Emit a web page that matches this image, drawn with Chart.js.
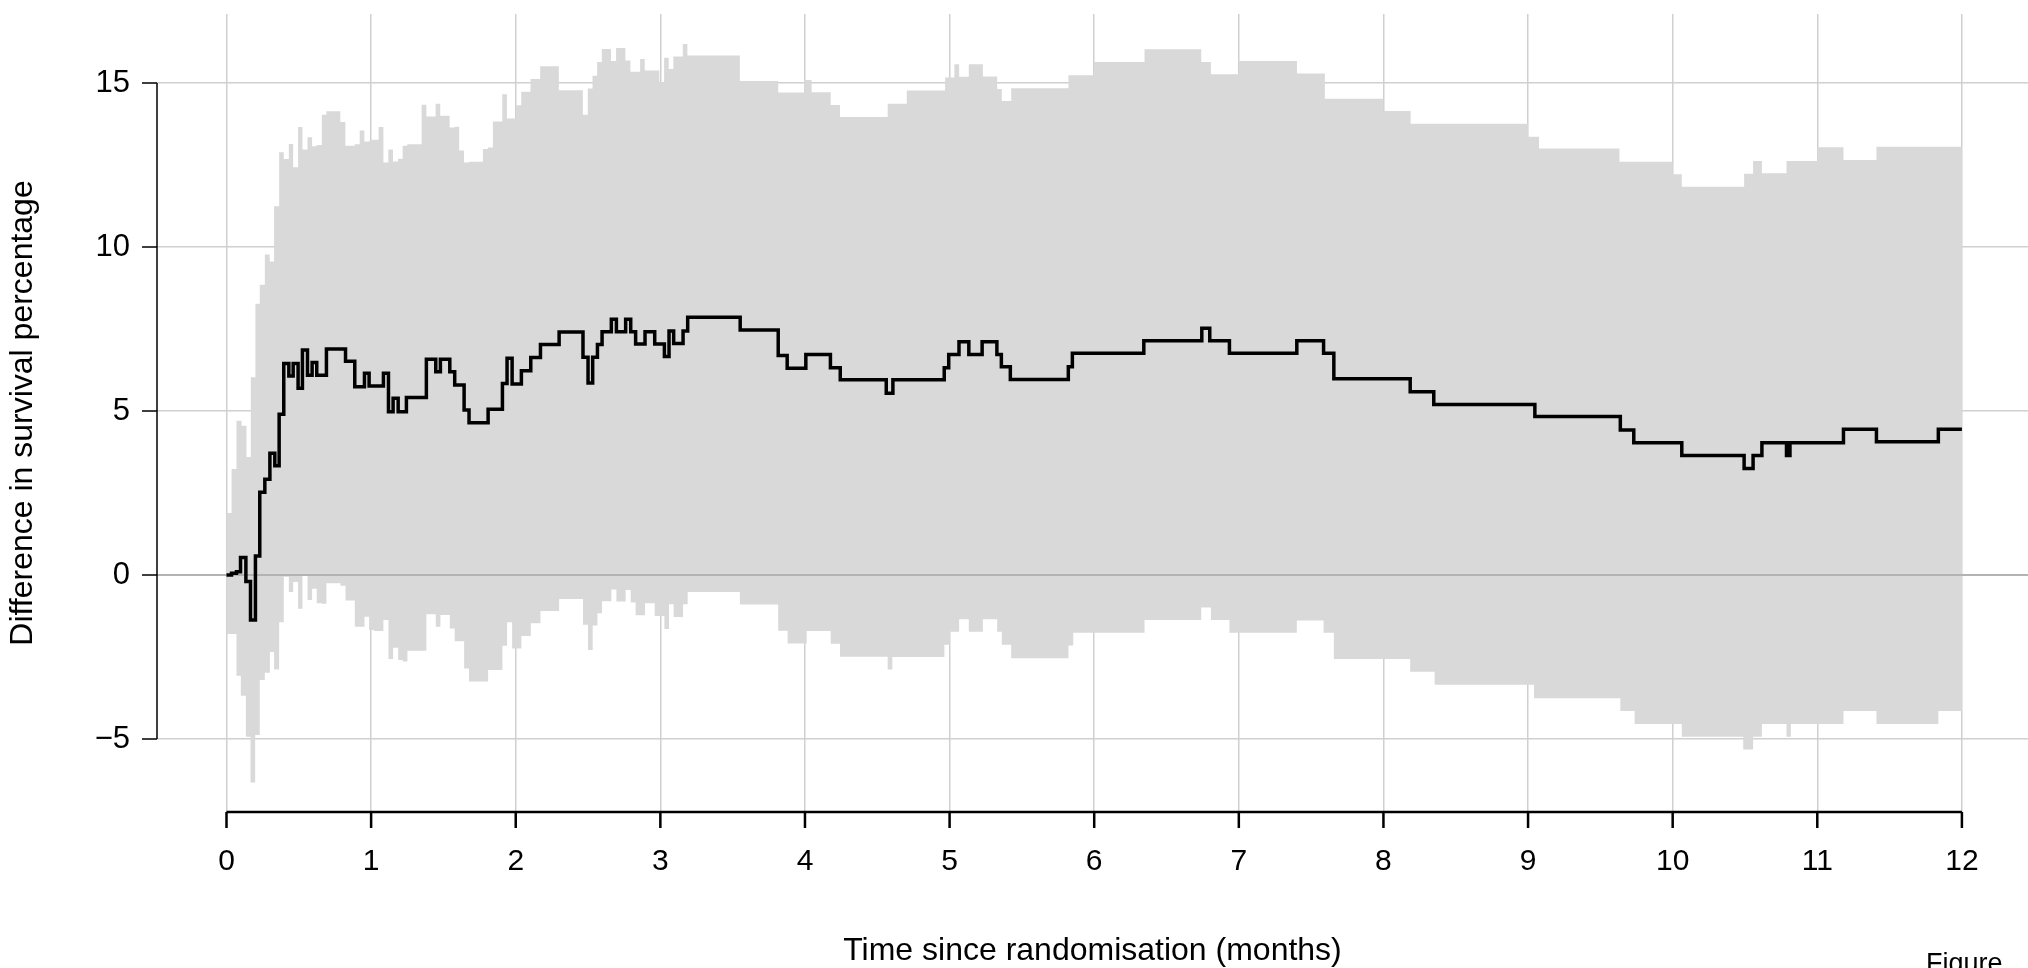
<!DOCTYPE html>
<html>
<head>
<meta charset="utf-8">
<script src="https://cdn.jsdelivr.net/npm/chart.js@4.4.1/dist/chart.umd.min.js"></script>
<style>
html, body { margin: 0; padding: 0; background: #fff; }
canvas { display: block; }
</style>
</head>
<body>
<canvas id="diferencia" width="2028" height="968"></canvas>
<script>
// DATOS (meses desde la aleatorizacion, diferencia en %)
var estT = [0, 0.035, 0.069, 0.097, 0.134, 0.166, 0.200, 0.230, 0.265, 0.300, 0.334, 0.364, 0.396, 0.431, 0.461, 0.495,
    0.525, 0.560, 0.592, 0.624, 0.691, 0.823, 0.887, 0.954, 0.986, 1.085, 1.120, 1.152, 1.187, 1.244, 1.382, 1.447,
    1.479, 1.544, 1.578, 1.643, 1.677, 1.809, 1.908, 1.940, 1.975, 2.039, 2.104, 2.171, 2.300, 2.465, 2.500, 2.532,
    2.565, 2.597, 2.661, 2.696, 2.760, 2.795, 2.829, 2.894, 2.961, 3.028, 3.060, 3.092, 3.157, 3.189, 3.552, 3.815,
    3.877, 4.006, 4.176, 4.244, 4.562, 4.608, 4.963, 4.994, 5.065, 5.133, 5.225, 5.327, 5.358, 5.420, 5.821, 5.849,
    6.343, 6.744, 6.799, 6.935, 7.401, 7.586, 7.657, 8.185, 8.348, 9.047, 9.638, 9.731, 10.063, 10.494, 10.556, 10.617,
    10.787, 10.811, 11.181, 11.409, 11.837, 12.0];
var estV = [0, 0.05, 0.10, 0.53, -0.20, -1.37, 0.58, 2.52, 2.92, 3.71, 3.33, 4.90, 6.45, 6.07, 6.45, 5.69,
    6.86, 6.09, 6.48, 6.09, 6.89, 6.52, 5.74, 6.15, 5.76, 6.15, 4.98, 5.39, 4.98, 5.41, 6.58, 6.20,
    6.58, 6.20, 5.79, 5.03, 4.64, 5.05, 5.84, 6.61, 5.82, 6.23, 6.63, 7.03, 7.41, 6.64, 5.85, 6.64,
    7.03, 7.42, 7.80, 7.42, 7.80, 7.42, 7.04, 7.42, 7.04, 6.66, 7.44, 7.06, 7.44, 7.86, 7.47, 6.69,
    6.30, 6.72, 6.32, 5.95, 5.54, 5.95, 6.32, 6.72, 7.11, 6.72, 7.11, 6.72, 6.35, 5.96, 6.35, 6.76,
    7.14, 7.52, 7.14, 6.76, 7.14, 6.76, 5.98, 5.59, 5.20, 4.83, 4.42, 4.03, 3.64, 3.25, 3.64, 4.03,
    3.64, 4.03, 4.44, 4.06, 4.44, 4.44];

// limite superior del intervalo
var upT = [0, 0.035, 0.069, 0.104, 0.138, 0.168, 0.200, 0.230, 0.265, 0.299, 0.329, 0.364, 0.396, 0.431, 0.461, 0.495,
    0.525, 0.560, 0.592, 0.624, 0.659, 0.691, 0.787, 0.822, 0.886, 0.921, 0.953, 0.990, 1.052, 1.085, 1.119, 1.151,
    1.186, 1.218, 1.250, 1.349, 1.382, 1.446, 1.478, 1.543, 1.577, 1.609, 1.642, 1.676, 1.773, 1.808, 1.842, 1.907,
    1.939, 2.003, 2.038, 2.102, 2.169, 2.298, 2.464, 2.498, 2.531, 2.563, 2.595, 2.659, 2.694, 2.758, 2.793, 2.860,
    2.892, 2.993, 3.026, 3.058, 3.090, 3.155, 3.187, 3.550, 3.815, 3.995, 4.046, 4.178, 4.242, 4.572, 4.704, 4.969,
    5.033, 5.066, 5.133, 5.230, 5.329, 5.361, 5.426, 5.822, 6.000, 6.348, 6.740, 6.807, 7.000, 7.402, 7.595, 8.000,
    8.188, 9.000, 9.076, 9.632, 10.000, 10.063, 10.494, 10.556, 10.617, 10.787, 11.000, 11.181, 11.409, 12.0];
var upV = [1.89, 3.23, 4.70, 4.55, 3.60, 6.03, 8.27, 8.85, 9.77, 9.56, 11.24, 12.89, 12.68, 13.14, 12.43, 13.66,
    12.97, 13.35, 13.07, 13.11, 14.03, 14.14, 13.81, 13.09, 13.13, 13.55, 13.22, 13.27, 13.66, 12.58, 12.97, 12.61,
    12.69, 13.09, 13.13, 14.34, 13.98, 14.37, 14.00, 13.64, 13.67, 12.94, 12.58, 12.60, 12.99, 13.03, 13.83, 14.66,
    13.92, 14.32, 14.73, 15.12, 15.51, 14.78, 14.03, 14.83, 15.22, 15.64, 16.04, 15.67, 16.07, 15.69, 15.34, 15.73,
    15.38, 15.02, 15.77, 15.43, 15.81, 16.19, 15.84, 15.06, 14.71, 15.09, 14.72, 14.33, 13.96, 14.37, 14.77, 15.17,
    15.57, 15.19, 15.57, 15.20, 14.82, 14.45, 14.84, 15.24, 15.64, 16.03, 15.64, 15.27, 15.67, 15.29, 14.52, 14.15,
    13.76, 13.36, 13.00, 12.60, 12.22, 11.84, 12.23, 12.62, 12.25, 12.62, 13.04, 12.65, 13.06, 13.06];

// limite inferior del intervalo
var loT = [0, 0.069, 0.099, 0.134, 0.166, 0.198, 0.230, 0.265, 0.300, 0.329, 0.364, 0.396, 0.431, 0.461, 0.495, 0.525,
    0.560, 0.592, 0.624, 0.659, 0.691, 0.788, 0.823, 0.887, 0.954, 0.986, 1.021, 1.085, 1.120, 1.152, 1.187, 1.219,
    1.251, 1.382, 1.447, 1.479, 1.544, 1.578, 1.643, 1.677, 1.809, 1.908, 1.940, 1.975, 2.039, 2.104, 2.171, 2.300,
    2.465, 2.500, 2.532, 2.565, 2.597, 2.661, 2.696, 2.760, 2.795, 2.829, 2.894, 2.961, 3.028, 3.060, 3.092, 3.157,
    3.189, 3.550, 3.815, 3.880, 4.012, 4.178, 4.242, 4.572, 4.604, 4.964, 5.003, 5.066, 5.133, 5.230, 5.329, 5.361,
    5.426, 5.822, 5.855, 6.348, 6.740, 6.807, 6.935, 7.401, 7.586, 7.657, 8.185, 8.354, 9.041, 9.638, 9.737, 10.063,
    10.488, 10.556, 10.617, 10.787, 10.817, 11.181, 11.409, 11.837, 12.0];
var loV = [-1.80, -3.07, -3.68, -4.93, -6.33, -4.88, -3.20, -2.98, -2.35, -2.88, -1.44, -0.05, -0.52, -0.21, -1.03, 0.03,
    -0.76, -0.42, -0.86, -0.88, -0.25, -0.33, -0.78, -1.58, -1.27, -1.68, -1.71, -1.37, -2.56, -2.22, -2.59, -2.64,
    -2.31, -1.20, -1.58, -1.22, -1.63, -2.02, -2.85, -3.25, -2.90, -2.16, -1.44, -2.24, -1.86, -1.47, -1.10, -0.73,
    -1.52, -2.29, -1.54, -1.17, -0.80, -0.44, -0.81, -0.46, -0.84, -1.23, -0.86, -1.25, -1.65, -0.89, -1.28, -0.89,
    -0.52, -0.90, -1.70, -2.09, -1.71, -2.10, -2.49, -2.88, -2.50, -2.13, -1.73, -1.35, -1.73, -1.35, -1.73, -2.13,
    -2.54, -2.15, -1.76, -1.37, -0.99, -1.37, -1.76, -1.39, -1.76, -2.56, -2.95, -3.35, -3.76, -4.15, -4.54, -4.93,
    -5.32, -4.93, -4.54, -4.93, -4.54, -4.15, -4.54, -4.15, -4.15];

var xTicks = [0, 1, 2, 3, 4, 5, 6, 7, 8, 9, 10, 11, 12];
var yTicks = [-5, 0, 5, 10, 15];

Chart.defaults.font.family = "'Liberation Sans', Arial, Helvetica, sans-serif";
Chart.defaults.color = '#000';

function puntos(t, v) {
    return t.map(function (x, i) { return {x: x, y: v[i]}; });
}

// ejes al estilo R: solo sobre el rango de las marcas
var ejes = {
    id: 'ejes',
    beforeDatasetDraw: function (chart, args) {
        if (args.index !== 0) return;
        var ctx = chart.ctx, a = chart.chartArea, y0 = chart.scales.y.getPixelForValue(0);
        ctx.save();
        ctx.strokeStyle = '#b3b3b3';
        ctx.lineWidth = 2;
        ctx.beginPath();
        ctx.moveTo(a.left, y0);
        ctx.lineTo(a.right, y0);
        ctx.stroke();
        ctx.restore();
    },
    afterDraw: function (chart) {
        var ctx = chart.ctx, a = chart.chartArea, sx = chart.scales.x, sy = chart.scales.y;
        ctx.save();
        ctx.strokeStyle = '#000';
        ctx.lineWidth = 1.5;
        ctx.beginPath();
        ctx.moveTo(a.left, sy.getPixelForValue(yTicks[0]));
        ctx.lineTo(a.left, sy.getPixelForValue(yTicks[yTicks.length - 1]));
        yTicks.forEach(function (v) {
            var p = sy.getPixelForValue(v);
            ctx.moveTo(a.left - 15, p);
            ctx.lineTo(a.left, p);
        });
        ctx.stroke();
        ctx.lineWidth = 2.5;
        ctx.beginPath();
        ctx.moveTo(sx.getPixelForValue(xTicks[0]), a.bottom);
        ctx.lineTo(sx.getPixelForValue(xTicks[xTicks.length - 1]), a.bottom);
        xTicks.forEach(function (v) {
            var p = sx.getPixelForValue(v);
            ctx.moveTo(p, a.bottom);
            ctx.lineTo(p, a.bottom + 16);
        });
        ctx.stroke();
        ctx.fillStyle = '#000';
        ctx.font = "27px 'Liberation Sans', Arial, sans-serif";
        ctx.textBaseline = 'alphabetic';
        ctx.fillText('Figure', 1926, 972);
        ctx.restore();
    }
};

var lienzo = document.getElementById('diferencia').getContext('2d');
var grafico = new Chart(lienzo, {
    type: 'line',
    data: {
        datasets: [{
            label: 'Diferencia',
            data: puntos(estT, estV),
            stepped: true,
            borderColor: '#000',
            borderWidth: 3.5,
            borderJoinStyle: 'miter',
            pointRadius: 0,
            fill: false
        }, {
            label: 'Inferior',
            data: puntos(loT, loV),
            stepped: true,
            borderWidth: 0,
            borderColor: 'rgba(0,0,0,0)',
            pointRadius: 0,
            fill: false
        }, {
            label: 'Superior',
            data: puntos(upT, upV),
            stepped: true,
            borderWidth: 0,
            borderColor: 'rgba(0,0,0,0)',
            backgroundColor: '#d9d9d9',
            pointRadius: 0,
            fill: '-1'
        }]
    },
    options: {
        responsive: false,
        animation: false,
        events: [],
        layout: {padding: {top: 14, left: 0, right: 0, bottom: 0}},
        plugins: {legend: {display: false}, tooltip: {enabled: false}},
        scales: {
            x: {
                type: 'linear',
                min: -0.4806,
                max: 12.457,
                afterBuildTicks: function (s) { s.ticks = xTicks.map(function (v) { return {value: v}; }); },
                afterFit: function (s) { s.height = 156; s.paddingLeft = 0; s.paddingRight = 0; },
                ticks: {font: {size: 30}, color: '#000', padding: 32, autoSkip: false, maxRotation: 0},
                grid: {color: '#d0d0d0', lineWidth: 1.5, drawTicks: false},
                border: {display: false},
                title: {display: true, text: 'Time since randomisation (months)', color: '#000',
                    font: {size: 32, lineHeight: 1.0}, padding: {top: 0, bottom: 1}}
            },
            y: {
                type: 'linear',
                min: -7.226,
                max: 17.104,
                afterBuildTicks: function (s) { s.ticks = yTicks.map(function (v) { return {value: v}; }); },
                afterFit: function (s) { s.width = 157; s.paddingTop = 0; s.paddingBottom = 0; },
                ticks: {font: {size: 31}, color: '#000', padding: 27,
                    callback: function (v) { return String(v).replace('-', '\u2212'); }},
                grid: {color: '#d0d0d0', lineWidth: 1.5, drawTicks: false},
                border: {display: false},
                title: {display: true, text: 'Difference in survival percentage', color: '#000',
                    font: {size: 32}, padding: {top: 4, bottom: 0}}
            }
        }
    },
    plugins: [ejes]
});
</script>
</body>
</html>
